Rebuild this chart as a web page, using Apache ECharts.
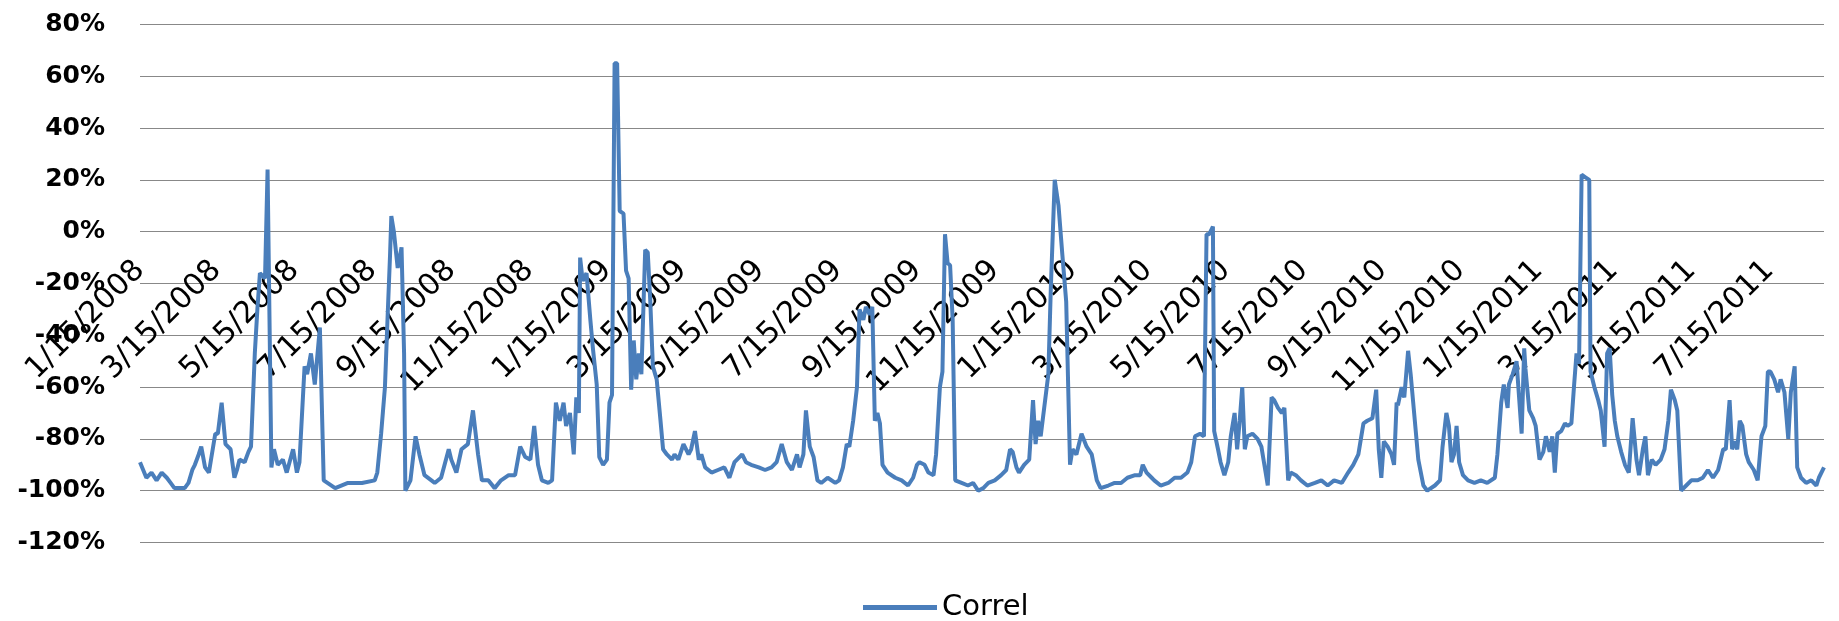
<!DOCTYPE html>
<html>
<head>
<meta charset="utf-8">
<script src="https://cdn.jsdelivr.net/npm/echarts@6/dist/echarts.min.js"></script>
<style>
  html, body { margin: 0; padding: 0; background: #fff; }
  #chart { width: 1839px; height: 621px; }
</style>
</head>
<body>
<div id="chart"></div>
<script>
// Category span: every calendar day from 1/15/2008 to 8/27/2011
const startDate = '2008-01-15';
const endDate = '2011-08-27';

// Axis tick labels shown on the category axis
const tickLabels = ['1/15/2008','3/15/2008','5/15/2008','7/15/2008','9/15/2008','11/15/2008',
  '1/15/2009','3/15/2009','5/15/2009','7/15/2009','9/15/2009','11/15/2009',
  '1/15/2010','3/15/2010','5/15/2010','7/15/2010','9/15/2010','11/15/2010',
  '1/15/2011','3/15/2011','5/15/2011','7/15/2011'];

// Observations: day number counted from 1/15/2008, and Correl value in %
const daysPart1 = [0,5,9,13,17,21,24,27,35,38,41,43,46,48,51,54,56,59,61,64,67,71,74,76,78,82,85,87,90,92,94,98,100,101,103,105,108,112,115,120,123,125,129,131,134,137,141,144,153,163,174,184,186,189,192,194,196,197,199,202,205,207,208,212,216,219,223,231,236,242,244,248,252,257,261];
const correlPart1 = [-89,-95,-93,-96,-93,-95,-97,-99,-99,-97,-92,-90,-86,-83,-91,-93,-87,-78,-78,-66,-82,-84,-95,-92,-88,-89,-85,-83,-47,-30,-16,-18,24,24,-91,-84,-90,-88,-93,-84,-93,-89,-52,-55,-47,-59,-37,-96,-99,-97,-97,-96,-93,-78,-60,-34,-9,6,0,-14,-6,-47,-100,-96,-79,-86,-94,-97,-95,-84,-88,-93,-84,-82,-69];

const daysPart2 = [265,268,273,278,283,289,294,298,302,306,309,312,315,320,323,326,329,332,334,337,340,342,344,345,347,350,353,355,358,360,363,366,368,370,372,374,376,379,381,383,385,387,389,391,393,396,398,400,402,405,408,410,413,417,419,422,426,430,432,435,438,440,443,448,453,458,462,466,472,475,479,485,490,495,499,503,507,511,515,517,520,522,525,528];
const correlPart2 = [-86,-96,-96,-99,-96,-94,-94,-83,-87,-88,-75,-90,-96,-97,-96,-66,-73,-66,-75,-70,-86,-64,-70,-10,-19,-16,-34,-45,-59,-87,-90,-88,-66,-63,65,65,8,7,-15,-18,-61,-42,-57,-47,-55,-7,-8,-27,-52,-57,-73,-84,-86,-88,-86,-88,-82,-86,-84,-77,-88,-86,-91,-93,-92,-91,-95,-89,-86,-89,-90,-91,-92,-91,-89,-82,-89,-92,-86,-91,-86,-69,-83,-87];

const daysPart3 = [531,534,539,545,548,551,554,556,559,562,564,567,569,572,574,576,578,580,582,586,592,597,602,606,609,611,615,618,622,624,627,629,631,633,635,637,639,644,649,653,657,661,665,670,675,679,682,684,687,689,693,697,700,702,704,706,709,712,714,717,720,723,726,729,731,734,738,742,746,750,753,759,764,769,774,780,784,786,789,793];
const correlPart3 = [-96,-97,-95,-97,-96,-91,-82,-83,-73,-60,-30,-34,-29,-32,-29,-73,-70,-74,-90,-93,-95,-96,-98,-95,-90,-89,-90,-93,-94,-86,-60,-54,-1,-12,-13,-34,-96,-97,-98,-97,-100,-99,-97,-96,-94,-92,-84,-85,-91,-93,-90,-88,-65,-82,-73,-79,-67,-55,-21,20,10,-9,-27,-90,-84,-86,-78,-83,-86,-96,-99,-98,-97,-97,-95,-94,-94,-90,-93,-95];

const daysPart4 = [795,800,806,811,816,821,824,827,831,834,836,838,841,842,845,847,850,853,855,858,860,862,864,866,868,872,876,879,881,884,887,889,892,895,897,900,902,906,910,915,921,926,931,936,942,947,951,955,959,962,966,969,971,973,975,978,981,983,985,986,989,991,994,996,998,1002,1006,1009,1015,1019,1021,1024,1026,1028,1030,1032,1034,1037,1041,1046,1051,1056,1062];
const correlPart4 = [-96,-98,-97,-95,-95,-93,-89,-79,-78,-79,-1,-1,2,-77,-84,-89,-94,-89,-79,-70,-84,-73,-60,-84,-79,-78,-80,-83,-89,-98,-64,-65,-68,-70,-68,-96,-93,-94,-96,-98,-97,-96,-98,-96,-97,-93,-90,-86,-74,-73,-72,-61,-84,-95,-81,-83,-86,-90,-66,-67,-60,-64,-46,-55,-66,-88,-98,-100,-98,-96,-83,-70,-75,-89,-86,-75,-89,-94,-96,-97,-96,-97,-95];

const daysPart5 = [1064,1067,1069,1072,1073,1076,1079,1080,1083,1085,1086,1089,1092,1094,1097,1100,1102,1105,1107,1109,1111,1114,1117,1119,1122,1124,1126,1128,1130,1133,1136,1137,1140,1143,1145,1148,1150,1152,1154,1156,1158,1161,1164,1167,1170,1173,1175,1178,1180,1182,1185,1188,1192,1195,1198,1200,1203,1205,1208,1212,1216,1221,1225,1229,1233,1237,1241,1243,1246,1248,1250,1252,1254,1256,1259,1261,1265,1268,1271,1274,1276,1278,1281,1284,1286,1289,1292,1294,1297,1299,1302,1306,1310,1314,1316,1320];
const correlPart5 = [-86,-66,-59,-68,-59,-55,-50,-57,-78,-45,-53,-69,-72,-75,-88,-85,-79,-85,-79,-93,-78,-77,-74,-75,-74,-60,-47,-51,22,21,20,-54,-60,-65,-69,-83,-47,-45,-63,-73,-79,-85,-90,-93,-72,-88,-94,-84,-79,-94,-88,-90,-88,-84,-73,-61,-65,-69,-100,-98,-96,-96,-95,-92,-95,-92,-84,-84,-65,-84,-81,-84,-73,-75,-86,-89,-92,-96,-79,-75,-54,-54,-57,-62,-57,-62,-80,-62,-52,-91,-95,-97,-96,-98,-95,-91];

// ---- build category list (one per calendar day) ----
const DAY = 86400000;
const t0 = Date.parse(startDate + 'T00:00:00Z');
const t1 = Date.parse(endDate + 'T00:00:00Z');
const categories = [];
for (let t = t0; t <= t1; t += DAY) {
  const d = new Date(t);
  categories.push((d.getUTCMonth() + 1) + '/' + d.getUTCDate() + '/' + d.getUTCFullYear());
}

const seriesData = categories.map(() => '-');
[[daysPart1, correlPart1], [daysPart2, correlPart2], [daysPart3, correlPart3],
 [daysPart4, correlPart4], [daysPart5, correlPart5]].forEach(([ds, vs]) => {
  ds.forEach((day, i) => { seriesData[day] = vs[i]; });
});

const tickSet = new Set(tickLabels);
const FONT = 'DejaVu Sans';

const Y_MIN = -120, Y_MAX = 80;
const GRID_TOP = 24.5, GRID_BOTTOM = 78.5, H = 621;
// distance from the bottom edge of the grid up to the 0% line
const plotH = H - GRID_TOP - GRID_BOTTOM;
const zeroOffset = plotH * (0 - Y_MIN) / (Y_MAX - Y_MIN);

const chart = echarts.init(document.getElementById('chart'));
chart.setOption({
  animation: false,
  backgroundColor: '#fff',
  grid: { left: 140, right: 15, top: GRID_TOP, bottom: GRID_BOTTOM, containLabel: false, outerBoundsMode: 'none' },
  legend: {
    data: ['Correl'],
    left: 858, top: 588,
    icon: 'rect', itemWidth: 74, itemHeight: 5,
    textStyle: { fontSize: 29, fontFamily: FONT, color: '#000' }
  },
  xAxis: {
    type: 'category',
    data: categories,
    boundaryGap: false,
    position: 'bottom',
    offset: -zeroOffset,
    axisLine: { show: false, onZero: false },
    axisTick: { show: false },
    splitLine: { show: false },
    axisLabel: {
      interval: (idx, val) => tickSet.has(val),
      rotate: 45,
      margin: 34,
      fontSize: 30,
      fontFamily: FONT,
      color: '#000'
    }
  },
  yAxis: {
    type: 'value',
    min: Y_MIN, max: Y_MAX, interval: 20,
    axisLine: { show: false },
    axisTick: { show: false },
    splitLine: { lineStyle: { color: '#888', width: 1 } },
    axisLabel: {
      formatter: '{value}%',
      fontSize: 25, fontWeight: 'bold', fontFamily: FONT, color: '#000', margin: 35
    }
  },
  series: [{
    name: 'Correl',
    type: 'line',
    data: seriesData,
    connectNulls: true,
    showSymbol: false,
    symbol: 'none',
    lineStyle: { color: '#4A7EBB', width: 4 },
    itemStyle: { color: '#4A7EBB' }
  }]
});
</script>
</body>
</html>
